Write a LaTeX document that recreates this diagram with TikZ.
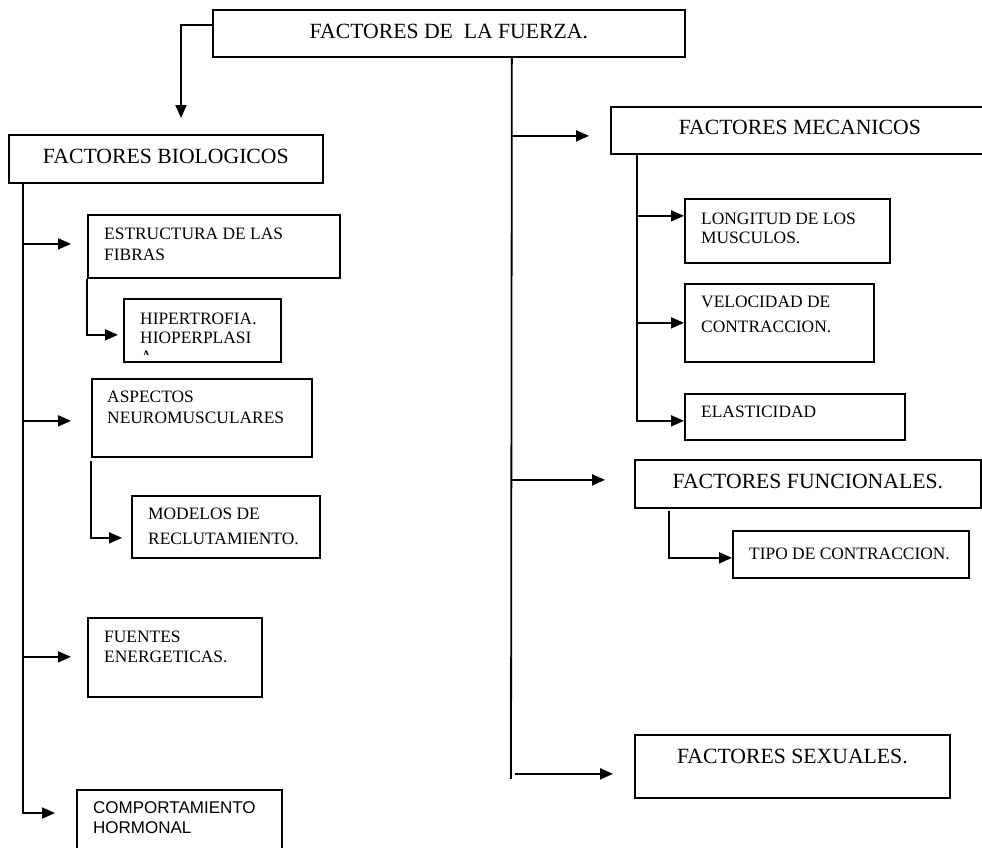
\documentclass[tikz,border=0pt]{standalone}
\usepackage{fontspec}
\setmainfont{Liberation Serif}
\newfontfamily\arialfont{Liberation Sans}
\usetikzlibrary{arrows.meta,calc}

\newcommand{\bigserif}{\fontsize{21.7}{26}\selectfont}
\newcommand{\smallserif}{\fontsize{17.4}{20}\selectfont}

\begin{document}
\begin{tikzpicture}[x=1pt,y=-1pt,
  box/.style={draw, line width=1.7pt, rectangle, inner sep=0pt, anchor=north west},
  title/.style={anchor=base, inner sep=0pt, font=\bigserif},
  txt/.style={anchor=base west, inner sep=0pt, font=\smallserif},
  stxt/.style={anchor=base west, inner sep=0pt, font=\arialfont\fontsize{17}{20}\selectfont},
  line/.style={line width=1.8pt},
  arr/.style={line width=1.8pt, -{Triangle[length=13pt,width=11pt]}}]

\useasboundingbox (0,0) rectangle (982,847);
\clip (0,0) rectangle (982,847);

% ---- boxes ----
\node[box, minimum width=472pt, minimum height=47pt] (top) at (212,9) {};
\node[box, minimum width=314pt, minimum height=48pt] (bio) at (8,134) {};
\node[box, minimum width=378pt, minimum height=47pt] (mec) at (610,106) {};
\node[box, minimum width=346pt, minimum height=48pt] (fun) at (634,459) {};
\node[box, minimum width=315pt, minimum height=63pt] (sex) at (634,734) {};

\node[box, minimum width=252pt, minimum height=63pt] (estr) at (87,214) {};
\node[box, minimum width=157pt, minimum height=63pt] (hip) at (123,298) {};
\node[box, minimum width=220pt, minimum height=78pt] (asp) at (91,378) {};
\node[box, minimum width=188pt, minimum height=62pt] (mod) at (131,495) {};
\node[box, minimum width=174pt, minimum height=79pt] (fue) at (87,617) {};
\node[box, minimum width=205pt, minimum height=71pt] (com) at (76,789) {};

\node[box, minimum width=205pt, minimum height=64pt] (lon) at (684,198) {};
\node[box, minimum width=189pt, minimum height=78pt] (vel) at (684,283) {};
\node[box, minimum width=220pt, minimum height=46pt] (ela) at (684,393) {};
\node[box, minimum width=236pt, minimum height=47pt] (tip) at (732,530) {};

% ---- titles ----
\node[title] (ttop) at ($(top.north)+(0,29)$) {FACTORES DE~~LA FUERZA.};
\node[title] (tbio) at ($(bio.north)+(0,29)$) {FACTORES BIOLOGICOS};
\node[title] (tmec) at ($(mec.north)+(0,28)$) {FACTORES MECANICOS};
\node[title] (tfun) at ($(fun.north)+(0,29)$) {FACTORES FUNCIONALES.};
\node[title] (tsex) at ($(sex.north)+(0,29)$) {FACTORES SEXUALES.};

% ---- box texts ----
\node[txt] (estr1) at ($(estr.north west)+(17,25)$) {ESTRUCTURA DE LAS};
\node[txt] (estr2) at ($(estr.north west)+(17,46)$) {FIBRAS};
\node[txt] (hip1) at ($(hip.north west)+(17,26)$) {HIPERTROFIA.};
\node[txt] (hip2) at ($(hip.north west)+(17,45)$) {HIOPERPLASI};
\begin{scope}
  \clip (hip.north west) rectangle ($(hip.south east)+(0,-8)$);
  \node[txt] (hip3) at ($(hip.north west)+(17,64)$) {A.};
\end{scope}
\node[txt] (asp1) at ($(asp.north west)+(16,24)$) {ASPECTOS};
\node[txt] (asp2) at ($(asp.north west)+(16,45)$) {NEUROMUSCULARES};
\node[txt] (mod1) at ($(mod.north west)+(17,24)$) {MODELOS DE};
\node[txt] (mod2) at ($(mod.north west)+(17,49)$) {RECLUTAMIENTO.};
\node[txt] (fue1) at ($(fue.north west)+(17,25)$) {FUENTES};
\node[txt] (fue2) at ($(fue.north west)+(17,45)$) {ENERGETICAS.};
\node[stxt] (com1) at ($(com.north west)+(17,24)$) {COMPORTAMIENTO};
\node[stxt] (com2) at ($(com.north west)+(17,44)$) {HORMONAL};

\node[txt] (lon1) at ($(lon.north west)+(17,26)$) {LONGITUD DE LOS};
\node[txt] (lon2) at ($(lon.north west)+(17,45)$) {MUSCULOS.};
\node[txt] (vel1) at ($(vel.north west)+(17,24)$) {VELOCIDAD DE};
\node[txt] (vel2) at ($(vel.north west)+(17,49)$) {CONTRACCION.};
\node[txt] (ela1) at ($(ela.north west)+(17,24)$) {ELASTICIDAD};
\node[txt] (tip1) at ($(tip.north west)+(17,29)$) {TIPO DE CONTRACCION.};

% ---- connectors: top to biological branch ----
\draw[arr] ($(top.west)+(0,-8.5)$) -| ($(bio.north west)+(173,-16)$);

% ---- main spine and its branches ----
\draw[line] ($(top.south)+(63,0)$) -- ($(sex.west)+(-123,12.5)$);
\draw[arr] ($(mec.west)+(-99,5.5)$) -- ($(mec.west)+(-21,5.5)$);
\draw[arr] ($(fun.west)+(-123,-4)$) -- ($(fun.west)+(-29,-4)$);
\draw[arr] ($(sex.west)+(-119,7.5)$) -- ($(sex.west)+(-21,7.5)$);

% ---- mechanical factors ----
\draw[arr] ($(mec.south west)+(27,0)$) |- ($(ela.west)+(0,4)$);
\draw[arr] ($(lon.west)+(-47,-15)$) -- ($(lon.west)+(0,-15)$);
\draw[arr] ($(vel.west)+(-47,0)$) -- (vel.west);

% ---- functional factors ----
\draw[arr] ($(fun.south west)+(35,2)$) |- ($(tip.west)+(0,3.5)$);

% ---- biological factors ----
\draw[arr] ($(bio.south west)+(15,0)$) |- ($(com.north west)+(-21,24)$);
\draw[arr] ($(estr.west)+(-64,-2.5)$) -- ($(estr.west)+(-16,-2.5)$);
\draw[arr] ($(asp.west)+(-68,3)$) -- ($(asp.west)+(-20,3)$);
\draw[arr] ($(fue.west)+(-64,-0.5)$) -- ($(fue.west)+(-16,-0.5)$);
\draw[arr] (estr.south west) |- ($(hip.west)+(-5,4.5)$);
\draw[arr] ($(asp.south west)+(0,3)$) |- ($(mod.west)+(-9,11)$);

\end{tikzpicture}
\end{document}
